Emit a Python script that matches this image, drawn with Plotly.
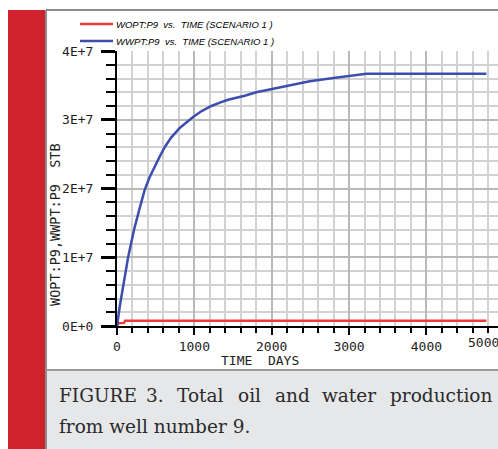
import plotly.graph_objects as go

# Cumulative production of well P9 (simulation run, scenario 1)
days_wopt = [0, 15, 90, 105, 4776]
wopt = [0, 0.40e6, 0.45e6, 0.75e6, 0.78e6]

days_wwpt = [0, 35, 142, 220, 290, 358, 420, 487, 550, 617, 700, 811, 900, 983,
             1100, 1220, 1330, 1435, 1651, 1800, 1974, 2250, 2491, 2750, 3008,
             3224, 4776]
wwpt = [0, 2.8e6, 9.9e6, 1.40e7, 1.70e7, 1.98e7, 2.16e7, 2.32e7, 2.46e7, 2.60e7,
        2.74e7, 2.88e7, 2.97e7, 3.04e7, 3.13e7, 3.20e7, 3.25e7, 3.29e7, 3.35e7,
        3.40e7, 3.44e7, 3.51e7, 3.56e7, 3.60e7, 3.64e7, 3.67e7, 3.67e7]

y_tickvals = [0, 1e7, 2e7, 3e7, 4e7]
y_ticktext = ["0E+0", "1E+7", "2E+7", "3E+7", "4E+7"]
x_tickvals = [0, 1000, 2000, 3000, 4000]
x_ticktext = ["0", "1000", "2000", "3000", "4000"]

series_names = ["WOPT:P9  vs.  TIME (SCENARIO 1 )",
                "WWPT:P9  vs.  TIME (SCENARIO 1 )"]
caption_line1 = ["FIGURE", "3.", "Total", "oil", "and", "water", "production"]
caption_line2 = "from well number 9."

W, H = 498, 449
ML, MR, MT, MB = 117, 0, 51, 123
PW, PH = W - ML - MR, H - MT - MB


def px(x):
    return (x - ML) / PW


def py(y):
    return (H - MB - y) / PH


RED = "#ec3b3b"
BLUE = "#3c4fae"
MONO = "DejaVu Sans Mono"
TXT = "#1e1e1e"

fig = go.Figure()
fig.add_trace(go.Scatter(x=days_wopt, y=wopt, mode="lines", name=series_names[0],
                         line=dict(color=RED, width=2.5)))
fig.add_trace(go.Scatter(x=days_wwpt, y=wwpt, mode="lines", name=series_names[1],
                         line=dict(color=BLUE, width=2.5)))

grid_minor = "#d2d2d2"
grid_major = "#b9b9b9"

fig.update_xaxes(
    range=[0, PW / 77.35 * 1000], tickvals=x_tickvals, ticktext=x_ticktext,
    showline=True, linecolor="black", linewidth=2,
    ticks="outside", ticklen=7, tickwidth=2, tickcolor="black", ticklabelstandoff=0,
    showgrid=True, gridcolor=grid_major, gridwidth=2, zeroline=False,
    tickfont=dict(family=MONO, size=13, color=TXT),
    minor=dict(dtick=200, ticks="outside", ticklen=5, tickwidth=1.5,
               tickcolor="black", showgrid=True, gridcolor=grid_minor, gridwidth=1.5),
)
fig.update_yaxes(
    range=[0, 4e7], tickvals=y_tickvals, ticktext=y_ticktext,
    showline=True, linecolor="black", linewidth=2,
    ticks="outside", ticklen=14, tickwidth=2.5, tickcolor="black", ticklabelstandoff=5,
    showgrid=True, gridcolor=grid_major, gridwidth=2, zeroline=False,
    tickfont=dict(family=MONO, size=13, color=TXT),
    minor=dict(dtick=2e6, ticks="outside", ticklen=9, tickwidth=1.5,
               tickcolor="black", showgrid=True, gridcolor=grid_minor, gridwidth=1.5),
)

shapes = [
    # red side band
    dict(type="rect", xref="paper", yref="paper", x0=px(8), x1=px(45), y0=py(449), y1=py(10),
         fillcolor="#cf222c", line=dict(width=0), layer="below"),
    # caption panel
    dict(type="rect", xref="paper", yref="paper", x0=px(46), x1=px(498), y0=py(449), y1=py(370),
         fillcolor="#e6e7e9", line=dict(width=0), layer="below"),
    # frame lines of the figure panel
    dict(type="line", xref="paper", yref="paper", x0=px(46), x1=px(498), y0=py(10), y1=py(10),
         line=dict(color="#8c8c8c", width=2)),
    dict(type="line", xref="paper", yref="paper", x0=px(46), x1=px(46), y0=py(10), y1=py(449),
         line=dict(color="#8c8c8c", width=2)),
    dict(type="line", xref="paper", yref="paper", x0=px(46), x1=px(498), y0=py(370), y1=py(370),
         line=dict(color="#9a9a9a", width=2)),
]

annotations = [
    dict(text="TIME  DAYS", xref="paper", yref="paper", x=px(260), y=py(360),
         xanchor="center", yanchor="middle", showarrow=False,
         font=dict(family=MONO, size=13, color=TXT)),
    dict(text="WOPT:P9,WWPT:P9  STB", xref="paper", yref="paper", x=px(55), y=py(225),
         xanchor="center", yanchor="middle", textangle=-90, showarrow=False,
         font=dict(family=MONO, size=13.5, color=TXT)),
    dict(text="5000", xref="paper", yref="paper", x=px(466), y=py(342),
         xanchor="left", yanchor="middle", showarrow=False,
         font=dict(family=MONO, size=13, color=TXT)),
]

# Series key drawn at the top of the panel
key_rows = [24, 41]
for name, color, ky in zip(series_names, [RED, BLUE], key_rows):
    shapes.append(dict(type="line", xref="paper", yref="paper", x0=px(80), x1=px(113),
                       y0=py(ky), y1=py(ky), line=dict(color=color, width=2.5)))
    annotations.append(dict(text=name, xref="paper", yref="paper", x=px(114), y=py(ky),
                            xanchor="left", yanchor="middle", showarrow=False,
                            font=dict(family="Liberation Sans", size=9.5,
                                      style="italic", color="black")))

# Caption, first line justified word by word
CAP_FONT = dict(family="DejaVu Serif", size=18.5, color="#2a2a2a")
word_x = [57, 144, 175, 235.5, 273, 320, 387.5]
for word, wx in zip(caption_line1, word_x):
    annotations.append(dict(text=word, xref="paper", yref="paper", x=px(wx), y=py(395),
                            xanchor="left", yanchor="middle", showarrow=False,
                            font=CAP_FONT))
annotations.append(dict(text=caption_line2, xref="paper", yref="paper", x=px(57), y=py(426),
                        xanchor="left", yanchor="middle", showarrow=False,
                        font=CAP_FONT))

fig.update_layout(
    width=W, height=H, margin=dict(l=ML, r=MR, t=MT, b=MB),
    paper_bgcolor="white", plot_bgcolor="white",
    shapes=shapes, annotations=annotations,
    showlegend=False,
)

fig.write_html("out.html")
